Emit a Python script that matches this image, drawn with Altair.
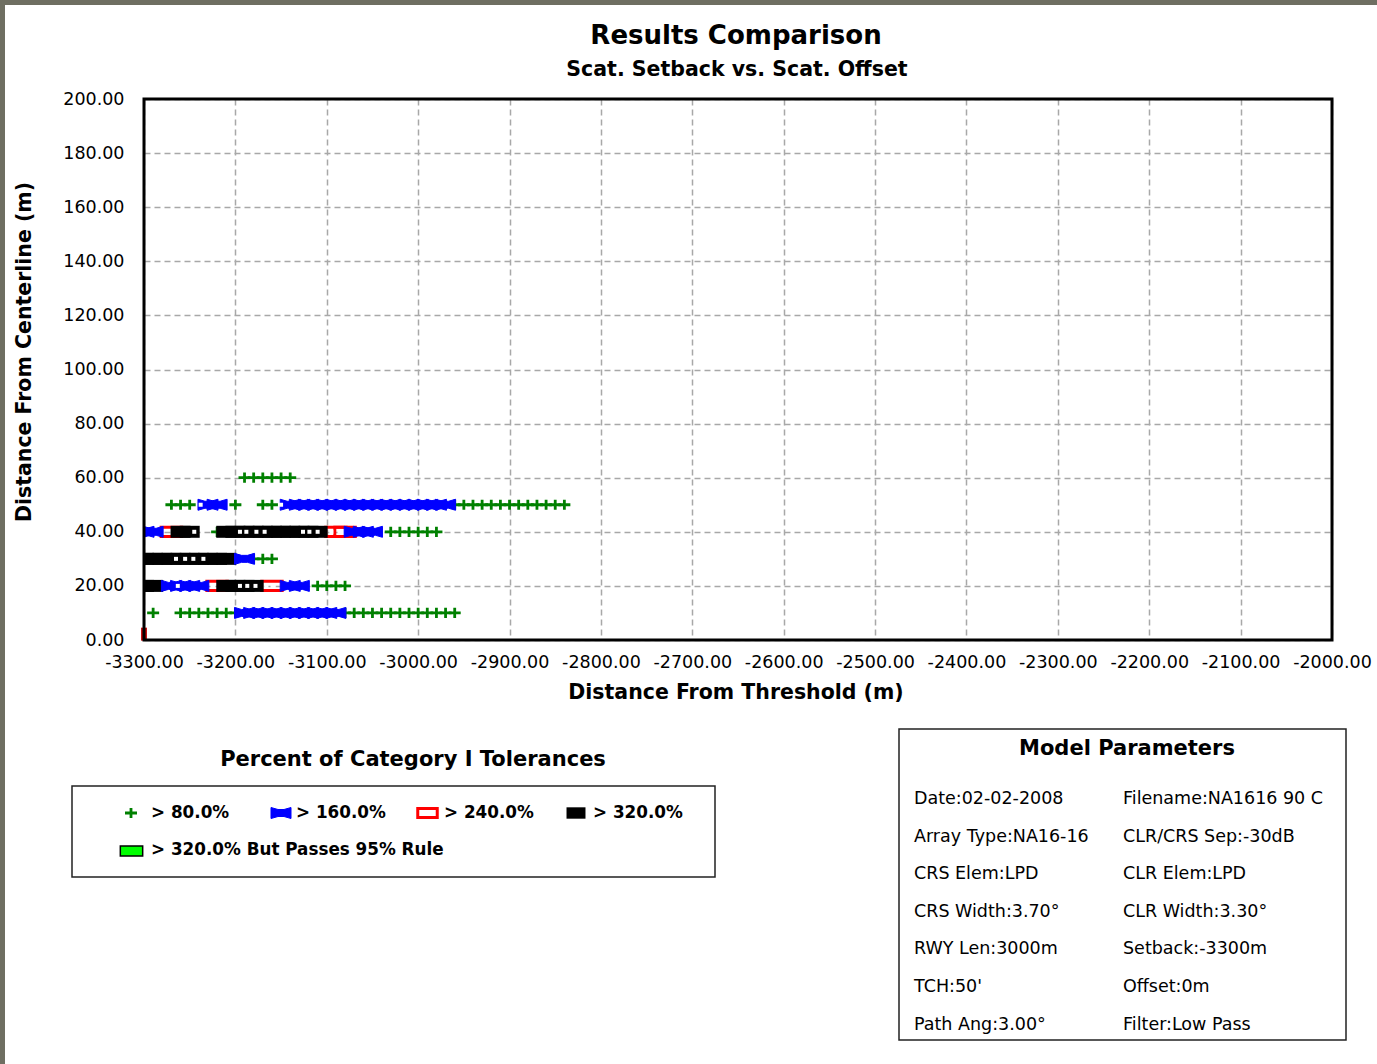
import altair as alt
import pandas as pd

FONT = "DejaVu Sans"

# ---------------- data (x: distance from threshold m, y: distance from centerline m) -------------
green_x = [-3290, -3260, -3250, -3240, -3230, -3220, -3210, -3200,
           -3080, -3070, -3060, -3050, -3040, -3030, -3020, -3010, -3000, -2990, -2980, -2970, -2960,
           -3280, -3110, -3100, -3090, -3080,
           -3180, -3170, -3160,
           -3220, -3030, -3020, -3010, -3000, -2990, -2980,
           -3270, -3260, -3250, -3200, -3170, -3160,
           -2960, -2950, -2940, -2930, -2920, -2910, -2900, -2890, -2880, -2870, -2860, -2850, -2840,
           -3190, -3180, -3170, -3160, -3150, -3140]
green_y = [10] * 21 + [20] * 5 + [30] * 3 + [40] * 7 + [50] * 19 + [60] * 6

blue_x = [-3190, -3180, -3170, -3160, -3150, -3140, -3130, -3120, -3110, -3100, -3090,
          -3270, -3260, -3250, -3240, -3140, -3130,
          -3190,
          -3300, -3290, -3070, -3060, -3050,
          -3230, -3220,
          -3140, -3130, -3120, -3110, -3100, -3090, -3080, -3070, -3060, -3050, -3040, -3030,
          -3020, -3010, -3000, -2990, -2980, -2970]
blue_y = [10] * 11 + [20] * 6 + [30] * 1 + [40] * 5 + [50] * 20

red_x = [-3220, -3160, -3270, -3090, -3080]
red_y = [20, 20, 40, 40, 40]

black_x = [-3300, -3290, -3210, -3200, -3190, -3180,
           -3300, -3290, -3280, -3270, -3260, -3250, -3240, -3230, -3220, -3210,
           -3260, -3250, -3210, -3200, -3190, -3180, -3170, -3160, -3150, -3140, -3130, -3120, -3110]
black_y = [20] * 6 + [30] * 10 + [40] * 13

gap_x = [-3263, -3224, -3195, -3187, -3178, -3166, -3158,
         -3265, -3255, -3246, -3235,
         -3245, -3195, -3188, -3177, -3168, -3126, -3119, -3110, -3095, -3086,
         -3238, -3150]
gap_y = [20] * 7 + [30] * 4 + [40] * 10 + [50] * 2

origin_x = [-3300]
origin_y = [0]

x_ticks = [-3300, -3200, -3100, -3000, -2900, -2800, -2700, -2600, -2500, -2400, -2300, -2200, -2100, -2000]
y_ticks = [0, 20, 40, 60, 80, 100, 120, 140, 160, 180, 200]

legend_labels = ["> 80.0%", "> 160.0%", "> 240.0%", "> 320.0%", "> 320.0% But Passes 95% Rule"]
param_left = ["Date:02-02-2008", "Array Type:NA16-16", "CRS Elem:LPD", "CRS Width:3.70°",
              "RWY Len:3000m", "TCH:50'", "Path Ang:3.00°"]
param_right = ["Filename:NA1616 90 C", "CLR/CRS Sep:-30dB", "CLR Elem:LPD", "CLR Width:3.30°",
               "Setback:-3300m", "Offset:0m", "Filter:Low Pass"]

# ---------------- layout ----------------
L, T = 144, 99          # plot origin in page pixels
W, H = 1188, 541

CROSS = "M-1,0H1M0,-0.85V0.85"
BOW = "M-1,-0.55L-0.3,-0.35H0.3L1,-0.55V0.55L0.3,0.35H-0.3L-1,0.55Z"
HRECT = "M-1,-0.45H1V0.45H-1Z"
BRECT = "M-1,-0.6H1V0.6H-1Z"
ORIG = "M-0.45,-1.9H0.45V0.1H-0.45Z"

grid_axis = dict(grid=True, gridColor="#a8a8a8", gridDash=[6, 4], gridWidth=1.5,
                 ticks=False, domain=False, labelFont=FONT, labelFontSize=17.5,
                 labelColor="black", title=None)

x_enc = alt.X("x:Q", scale=alt.Scale(domain=[-3300, -2000], nice=False, zero=False),
              axis=alt.Axis(values=x_ticks, labelPadding=13, labelFlush=False,
                            labelExpr="(datum.value < 0 ? '-' : '') + format(abs(datum.value), '.2f')",
                            **grid_axis))
y_enc = alt.Y("y:Q", scale=alt.Scale(domain=[0, 200], nice=False),
              axis=alt.Axis(values=y_ticks, format=".2f", labelPadding=20, **grid_axis))


def series(xs, ys, **mark):
    df = pd.DataFrame({"x": xs, "y": ys})
    return alt.Chart(df).mark_point(opacity=1, **mark).encode(x=x_enc, y=y_enc)


one = pd.DataFrame({"a": [0]})


def txt(s, x, y, size, bold=False, align="center", angle=0):
    return alt.Chart(one).mark_text(
        text=s, font=FONT, fontSize=size, fontWeight="bold" if bold else "normal",
        align=align, baseline="middle", angle=angle, color="black"
    ).encode(x=alt.value(x - L), y=alt.value(y - T))


def box(x1, y1, x2, y2, **mark):
    return alt.Chart(one).mark_rect(**mark).encode(
        x=alt.value(x1 - L), x2=alt.value(x2 - L), y=alt.value(y1 - T), y2=alt.value(y2 - T))


def sym(x, y, shape, size, **mark):
    return alt.Chart(one).mark_point(shape=shape, size=size, opacity=1, **mark).encode(
        x=alt.value(x - L), y=alt.value(y - T))


layers = []
# page edge
layers.append(box(0, 0, 1377, 5, color="#6f6f62"))
layers.append(box(0, 0, 5, 1064, color="#6f6f62"))

# data series
layers.append(series(green_x, green_y, shape=CROSS, size=144, filled=False,
                     color="#008000", strokeWidth=2.8, clip=True))
layers.append(series(red_x, red_y, shape=HRECT, size=420, filled=False,
                     color="#ff0000", strokeWidth=3, clip=True))
layers.append(series(black_x, black_y, shape=BRECT, size=400, filled=True,
                     color="#000000", clip=True))
layers.append(series(blue_x, blue_y, shape=BOW, size=400, filled=True,
                     color="#0000ff", stroke="#0000ff", strokeWidth=1, clip=True))
layers.append(series(gap_x, gap_y, shape="square", size=16, filled=True, color="#ffffff", clip=True))
layers.append(series(origin_x, origin_y, shape=ORIG, size=169, filled=True, color="#c00000"))

# plot frame
layers.append(box(L, T, L + W, T + H, fillOpacity=0, stroke="black", strokeWidth=3))

# titles
layers.append(txt("Results Comparison", 736, 36, 26, bold=True))
layers.append(txt("Scat. Setback vs. Scat. Offset", 737, 70, 20.5, bold=True))
layers.append(txt("Distance From Threshold (m)", 736, 693, 20.5, bold=True))
layers.append(txt("Distance From Centerline (m)", 25, 352, 20.5, bold=True, angle=270))

# legend
layers.append(txt("Percent of Category I Tolerances", 413, 760, 21, bold=True))
layers.append(box(72, 786, 715, 877, fillOpacity=0, stroke="#222222", strokeWidth=1.5))
layers.append(sym(131, 813, CROSS, 144, filled=False, color="#008000", strokeWidth=2.8))
layers.append(sym(281, 813, BOW, 400, filled=True, color="#0000ff", stroke="#0000ff", strokeWidth=1))
layers.append(sym(427.5, 813, HRECT, 380, filled=False, color="#ff0000", strokeWidth=3))
layers.append(sym(576, 813, BRECT, 360, filled=True, color="#000000"))
layers.append(sym(131.5, 851, HRECT, 500, filled=True, fill="#00ff00", stroke="#000000", strokeWidth=1.5))
leg_pos = [(151, 813), (296, 813), (444, 813), (593, 813), (151, 850)]
for lab, (lx, ly) in zip(legend_labels, leg_pos):
    layers.append(txt(lab, lx, ly, 16.8, bold=True, align="left"))

# model parameters
layers.append(box(899, 729, 1346, 1040, fillOpacity=0, stroke="#222222", strokeWidth=1.5))
layers.append(txt("Model Parameters", 1127, 749, 21, bold=True))
row_ys = [799, 837, 874, 912, 949, 987, 1025]
for s, ry in zip(param_left, row_ys):
    layers.append(txt(s, 914, ry, 17.5, align="left"))
for s, ry in zip(param_right, row_ys):
    layers.append(txt(s, 1123, ry, 17.5, align="left"))

chart = alt.layer(*layers).properties(
    width=W, height=H,
    padding={"left": L, "top": T, "right": 1377 - L - W, "bottom": 1064 - T - H},
    autosize=alt.AutoSizeParams(type="none"),
    background="white",
).configure_view(stroke=None)

chart.save("out.html", embed_options={"renderer": "svg", "actions": False})
